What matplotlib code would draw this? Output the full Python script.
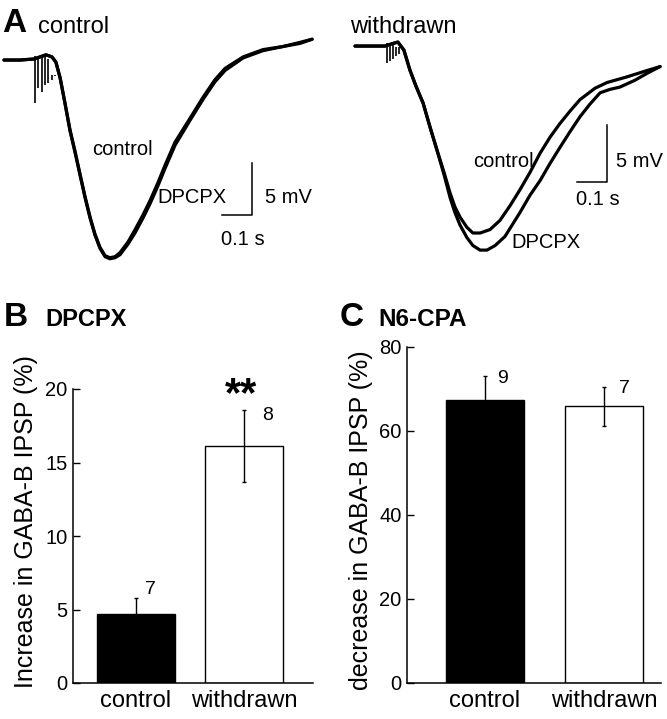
import matplotlib
matplotlib.use('Agg')
import matplotlib.pyplot as plt

plt.rcParams['font.family'] = ['Liberation Sans', 'DejaVu Sans']

# ---- A: GABA-B IPSP traces, time in ms, potential in mV (rel. to baseline)
# control slice
c_t = [0, 53, 100, 120, 140, 160, 173, 187, 203, 220, 237, 253, 270, 287, 303,
       320, 337, 353, 370, 387, 413, 437, 463, 487, 513, 537, 570, 620, 663,
       703, 737, 797, 863, 930, 987, 1027]
c_ctrl = [0, 0, 0.1, 0.3, 0.5, 0.3, -0.2, -1.7, -4.1, -6.7, -8.8, -10.9, -13.1,
          -15.1, -16.7, -18.0, -18.8, -19.0, -18.9, -18.5, -17.5, -16.3, -14.9,
          -13.5, -11.8, -10.1, -7.9, -5.6, -3.6, -1.9, -0.8, 0.3, 1.0, 1.3, 1.7, 2.0]
c_dpcpx = [0, 0, 0.1, 0.3, 0.5, 0.3, -0.2, -1.7, -4.1, -6.8, -8.9, -11.0, -13.2,
           -15.2, -16.8, -18.1, -18.9, -19.1, -19.0, -18.7, -17.7, -16.6, -15.2,
           -13.8, -12.1, -10.4, -8.2, -5.8, -3.8, -2.1, -1.0, 0.2, 0.9, 1.3, 1.6, 2.0]
c_stim_t = [103, 113, 127, 137, 147, 160, 170]
c_stim_v = [-4.1, -2.7, -3.1, -2.4, -2.2, -1.9, -1.5]

# withdrawn slice
w_t_ctrl = [0, 50, 100, 123, 143, 163, 183, 203, 227, 250, 273, 297, 317, 333,
            350, 373, 393, 417, 450, 483, 517, 550, 583, 617, 650, 683, 717,
            750, 800, 840, 907, 967, 1017]
w_ctrl = [0, 0, 0, 0.2, 0.35, -0.35, -2.1, -3.5, -5.0, -7.1, -9.1, -11.1, -12.9,
          -14.1, -15.0, -15.9, -16.4, -16.4, -16.1, -15.3, -14.0, -12.6, -11.1,
          -9.4, -8.0, -6.8, -5.7, -4.7, -3.7, -3.2, -2.7, -2.2, -1.8]
w_t_dpcpx = [0, 50, 100, 123, 143, 163, 183, 203, 227, 250, 273, 297, 317, 333,
             350, 373, 393, 417, 440, 467, 500, 550, 583, 617, 650, 683, 717,
             750, 783, 817, 850, 883, 933, 973, 1017]
w_dpcpx = [0, 0, 0, 0.2, 0.35, -0.35, -2.1, -3.5, -5.0, -7.1, -9.1, -11.3, -13.3,
           -14.6, -15.7, -16.8, -17.5, -17.9, -17.9, -17.5, -16.7, -14.6, -13.1,
           -11.8, -10.3, -8.9, -7.5, -6.2, -5.1, -4.1, -3.8, -3.6, -3.0, -2.4, -1.8]
w_stim_t = [107, 117, 127, 137, 147]
w_stim_v = [-1.5, -1.3, -1.1, -0.9, -0.7]

# ---- B / C: bar data
groups = ['control', 'withdrawn']
dpcpx_mean = [4.7, 16.1]
dpcpx_sem = [1.1, 2.45]
dpcpx_n = ['7', '8']
cpa_mean = [67.5, 65.9]
cpa_sem = [5.5, 4.6]
cpa_n = ['9', '7']

W, H = 667, 719
fig = plt.figure(figsize=(W / 100, H / 100), dpi=100)


def box(l, t, r, b):
    return [l / W, 1 - b / H, (r - l) / W, (b - t) / H]


def trace_panel(ax, traces, stim_t, stim_v, base_t, base_v):
    for t, v in traces:
        ax.plot(t, v, color='black', lw=2.3, solid_capstyle='round',
                solid_joinstyle='round')
    base = [min(base_v[i] for i in range(len(base_t)) if abs(base_t[i] - s) < 30) for s in stim_t]
    ax.vlines(stim_t, stim_v, [b + 0.3 for b in base], color='black', lw=1.2)
    ax.axis('off')


axA1 = fig.add_axes(box(0, 0, 333, 290))
trace_panel(axA1, [(c_t, c_ctrl), (c_t, c_dpcpx)], c_stim_t, c_stim_v, c_t, c_ctrl)
axA1.set_xlim(-13.3, 1096.7)
axA1.set_ylim(-22.1, 5.77)
axA1.plot([726.7, 826.7, 826.7], [-14.9, -14.9, -9.9], color='black', lw=1.1)
axA1.text(293, -9.1, 'control', fontsize=14.5)
axA1.text(510, -13.75, 'DPCPX', fontsize=14.5)
axA1.text(870, -13.75, '5 mV', fontsize=14.5)
axA1.text(797, -17.8, '0.1 s', fontsize=14.5, ha='center')

axA2 = fig.add_axes(box(333, 0, 667, 290))
trace_panel(axA2, [(w_t_ctrl, w_ctrl), (w_t_dpcpx, w_dpcpx)], w_stim_t, w_stim_v,
            w_t_ctrl, w_ctrl)
axA2.set_xlim(-73.3, 1040)
axA2.set_ylim(-21.4, 4.04)
axA2.plot([740, 840, 840], [-11.93, -11.93, -6.93], color='black', lw=1.1)
axA2.text(393, -10.6, 'control', fontsize=14.5)
axA2.text(520, -17.7, 'DPCPX', fontsize=14.5)
axA2.text(870, -10.6, '5 mV', fontsize=14.5)
axA2.text(737, -13.9, '0.1 s', fontsize=14.5)

# panel titles
fig.text(2 / W, 1 - 32 / H, 'A', fontsize=24, fontweight='bold', va='baseline')
fig.text(38 / W, 1 - 33 / H, 'control', fontsize=17, va='baseline')
fig.text(350 / W, 1 - 33 / H, 'withdrawn', fontsize=17, va='baseline')
fig.text(4 / W, 1 - 326 / H, 'B', fontsize=24, fontweight='bold', va='baseline')
fig.text(45 / W, 1 - 326 / H, 'DPCPX', fontsize=17, fontweight='bold', va='baseline')
fig.text(340 / W, 1 - 326 / H, 'C', fontsize=24, fontweight='bold', va='baseline')
fig.text(378 / W, 1 - 326 / H, 'N6-CPA', fontsize=17.5, fontweight='bold', va='baseline')


def bar_panel(ax, mean, sem, nlab, nxy, ymax, yticks, xlim, width):
    x = [0, 1]
    ax.bar(x, mean, width=width, color=['black', 'white'], edgecolor='black',
           linewidth=1.0, zorder=2)
    ax.errorbar(x, mean, yerr=sem, fmt='none', ecolor='black', elinewidth=1.0,
                capsize=1.6, capthick=1.0, zorder=3)
    for lab, (tx, ty) in zip(nlab, nxy):
        ax.text(tx, ty, lab, fontsize=14, ha='center', va='center')
    ax.set_xlim(*xlim)
    ax.set_ylim(0, ymax)
    ax.set_yticks(yticks)
    ax.set_xticks(x)
    ax.set_xticklabels(groups)
    for s in ['top', 'right']:
        ax.spines[s].set_visible(False)
    for s in ['left', 'bottom']:
        ax.spines[s].set_linewidth(1.1)
    ax.tick_params(axis='x', length=0, pad=5, labelsize=17)
    ax.tick_params(axis='y', direction='in', length=5, width=1.0, pad=4, labelsize=14.5)


axB = fig.add_axes(box(73, 389, 313, 683))
bar_panel(axB, dpcpx_mean, dpcpx_sem, dpcpx_n, [(0.13, 6.33), (1.22, 18.2)],
          20, [0, 5, 10, 15, 20], (-0.583, 1.64), 0.72)
axB.text(0.97, 19.6, '**', fontsize=30, fontweight='bold', ha='center', va='center',
         clip_on=False)
fig.text(26 / W, 1 - 522 / H, 'Increase in GABA-B IPSP (%)', fontsize=18,
         rotation=90, ha='center', va='center')

axC = fig.add_axes(box(407, 347, 661, 683))
bar_panel(axC, cpa_mean, cpa_sem, cpa_n, [(0.15, 72.4), (1.17, 70.2)],
          80, [0, 20, 40, 60, 80], (-0.655, 1.479), 0.655)
fig.text(361 / W, 1 - 520 / H, 'decrease in GABA-B IPSP (%)', fontsize=18,
         rotation=90, ha='center', va='center')

fig.savefig('out.png', dpi=100)
